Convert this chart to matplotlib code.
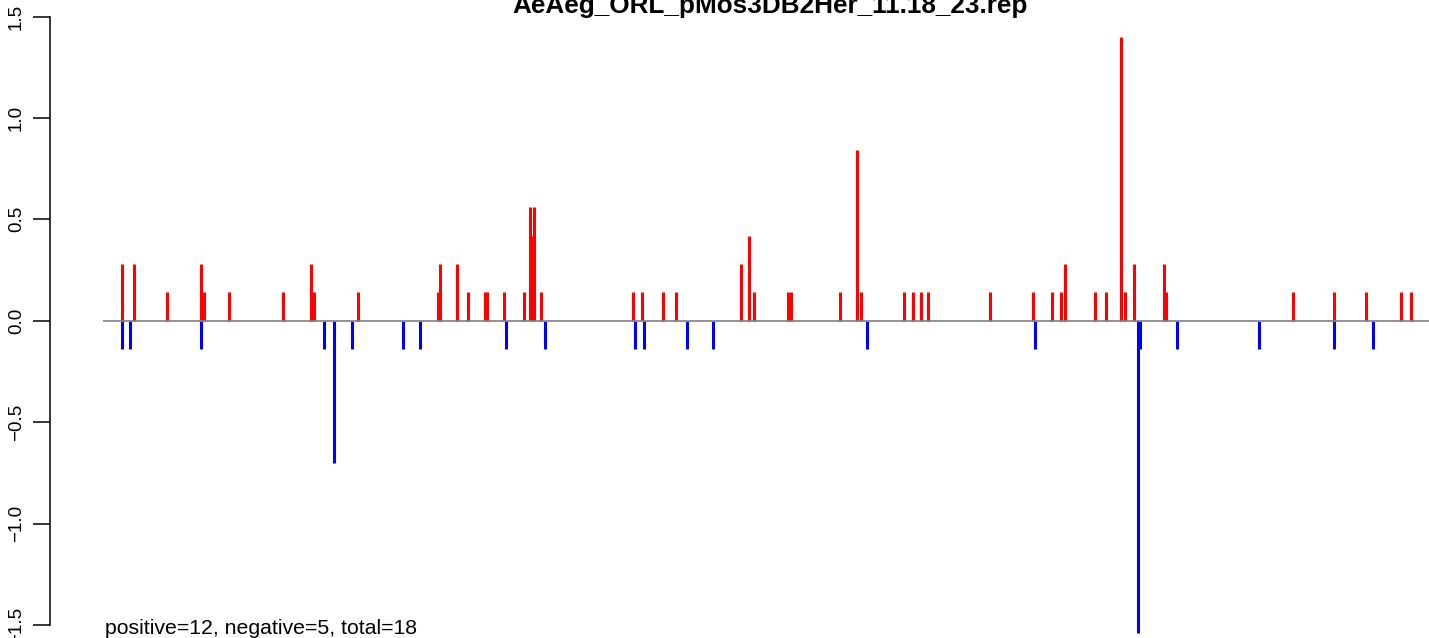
import numpy as np
import matplotlib
matplotlib.use("Agg")
import matplotlib.pyplot as plt

plt.rcParams['font.family'] = ['Liberation Sans', 'DejaVu Sans']

title = "AeAeg_ORL_pMos3DB2Her_11.18_23.rep"
summary = "positive=12, negative=5, total=18"

# positions along the region and the scores
pos_x = [122.3, 134.3, 167.3, 201.3, 203.7, 229.3, 283.3, 311.3, 313.7, 358.3,
         438.3, 440.3, 457.3, 468.3, 485.3, 487.3, 504.3, 524.3, 530.3, 532.3,
         534.3, 541.3, 633.3, 642.3, 663.3, 676.3, 741.3, 749.3, 754.3, 788.3,
         790.7, 840.3, 857.3, 861.3, 904.3, 913.3, 921.3, 928.3, 990.3, 1033.3,
         1052.3, 1061.3, 1065.3, 1095.3, 1106.3, 1121.3, 1125.3, 1134.3, 1164.3, 1166.3,
         1293.3, 1334.3, 1366.3, 1401.3, 1411.3]
pos_y = [0.28, 0.28, 0.14, 0.28, 0.14, 0.14, 0.14, 0.28, 0.14, 0.14,
         0.14, 0.28, 0.28, 0.14, 0.14, 0.14, 0.14, 0.14, 0.56, 0.42,
         0.56, 0.14, 0.14, 0.14, 0.14, 0.14, 0.28, 0.42, 0.14, 0.14,
         0.14, 0.14, 0.84, 0.14, 0.14, 0.14, 0.14, 0.14, 0.14, 0.14,
         0.14, 0.14, 0.28, 0.14, 0.14, 1.40, 0.14, 0.28, 0.28, 0.14,
         0.14, 0.14, 0.14, 0.14, 0.14]

neg_x = [122.3, 130.3, 201.3, 324.3, 334.3, 352.3, 403.3, 420.3, 506.3, 545.3,
         635.3, 644.3, 687.3, 713.3, 867.3, 1035.3, 1138.3, 1140.3, 1177.3, 1259.3,
         1334.3, 1373.3]
neg_y = [-0.14, -0.14, -0.14, -0.14, -0.70, -0.14, -0.14, -0.14, -0.14, -0.14,
         -0.14, -0.14, -0.14, -0.14, -0.14, -0.14, -1.54, -0.14, -0.14, -0.14,
         -0.14, -0.14]

region_start = 103
region_end = 1429
y_ticks = [-1.5, -1.0, -0.5, 0.0, 0.5, 1.0, 1.5]

fig = plt.figure(figsize=(14.29, 6.38), dpi=100)
ax = fig.add_axes([50 / 1429, 13 / 638, 1379 / 1429, 608.5 / 638])

ax.vlines(pos_x, 0, pos_y, colors='#ff0000', linewidth=2.2, capstyle='butt', clip_on=False)
ax.vlines(neg_x, 0, neg_y, colors='#0000ff', linewidth=2.2, capstyle='butt', clip_on=False)
ax.hlines(0, region_start, region_end, colors='#808080', linewidth=1.2, zorder=3)

ax.set_xlim(50, 1429)
ax.set_ylim(-1.5, 1.5)

for s in ['top', 'right', 'bottom']:
    ax.spines[s].set_visible(False)
ax.spines['left'].set_linewidth(1.1)
ax.spines['left'].set_bounds(-1.5, 1.5)
ax.spines['left'].set_clip_on(False)
ax.set_xticks([])
ax.set_yticks(y_ticks)
ax.set_yticklabels([('%.1f' % v).replace('-', '\u2212') for v in y_ticks],
                   rotation=90, va='center', fontsize=13.5)
ax.tick_params(axis='y', length=12, width=1.1, pad=6)
ax.patch.set_visible(False)

fig.text(770 / 1429, 1 - 13 / 638, title, ha='center', va='baseline', fontsize=18.8, weight='bold')
fig.text(105 / 1429, 4 / 638, summary, ha='left', va='baseline', fontsize=15.3)

fig.savefig('out.png', dpi=100)
